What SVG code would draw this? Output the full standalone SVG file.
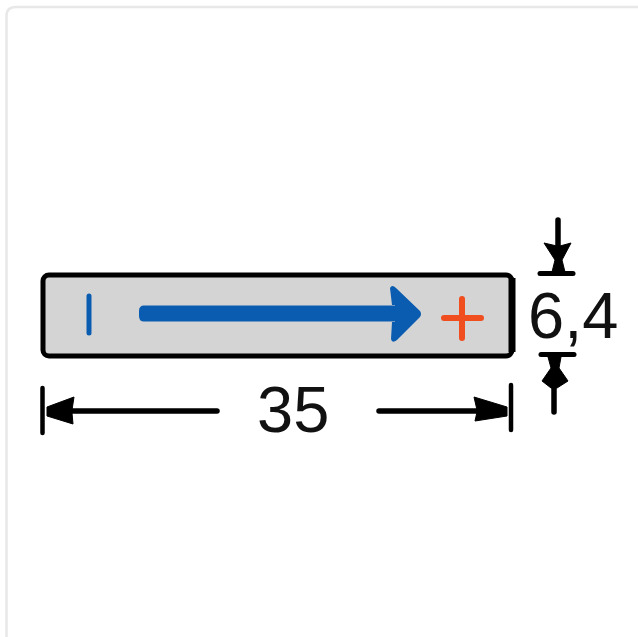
<svg xmlns="http://www.w3.org/2000/svg" width="638" height="637" viewBox="0 0 638 637">
  <style>
    .dim { stroke: #000; fill: none; stroke-linecap: round; }
    .head { fill: #000; stroke: #000; stroke-width: 1; stroke-linejoin: round; }
    .label { font-family: "Liberation Sans", Arial, sans-serif; font-size: 65px; fill: #111; }
    .blue { stroke: #0a5cb0; stroke-linecap: round; fill: none; }
  </style>
  <rect width="638" height="637" fill="#fff"/>
  <path d="M6.500 640V16Q6.500 7 16 7H640" fill="none" stroke="#e8e8e8" stroke-width="2.500"/>
  <g id="label-plate">
    <rect x="43" y="275" width="469" height="81" rx="6" fill="#d4d4d4" stroke="#000" stroke-width="5"/>
    <path d="M512 278V352" fill="none" stroke="#000" stroke-width="7"/>
    <path class="blue" d="M89 296V333" stroke-width="5"/>
    <path d="M144 305.500H395V321.500H144Q139 321.500 139 316V311Q139 305.500 144 305.500Z" fill="#0a5cb0"/>
    <path d="M390 288Q392 284 396 288L420 311Q422 314 420 317L397 340Q392 344 391 339L392 322H395V305H392Z" fill="#0a5cb0"/>
    <path d="M444 318H481" fill="none" stroke="#f04e1e" stroke-width="6" stroke-linecap="round"/>
    <path d="M462 299V338" fill="none" stroke="#f04e1e" stroke-width="6" stroke-linecap="round"/>
    <path d="M456 318L462 312L468 318L462 324Z" fill="#f04e1e"/>
  </g>
  <g id="dimension-width">
    <path class="dim" d="M42.500 388V433" stroke-width="4.500"/>
    <path class="dim" d="M72 411H217" stroke-width="5.500"/>
    <path class="head" d="M47 407L74 397L72 410V413L73 424L47 416Z"/>
    <path class="dim" d="M511 385V430" stroke-width="4.500"/>
    <path class="dim" d="M379 411H480" stroke-width="5.500"/>
    <path class="head" d="M507 407L474 397L477 410V412L475 421L507 416Z"/>
    <text class="label" x="257" y="432">35</text>
  </g>
  <g id="dimension-height">
    <path class="dim" d="M558 220V255" stroke-width="5.500"/>
    <path class="dim" d="M540 273.500H573" stroke-width="5"/>
    <path class="head" d="M544 243L557 246H560L571 243L562 260L565 272H552L555 260Z"/>
    <path class="dim" d="M541 354.500H574" stroke-width="5"/>
    <path class="dim" d="M554 378V412" stroke-width="5.500"/>
    <path class="head" d="M548 357H561L559 368L568 381L557 388H551L542 381L551 368Z"/>
    <text class="label" x="528" y="338">6,4</text>
  </g>
</svg>
